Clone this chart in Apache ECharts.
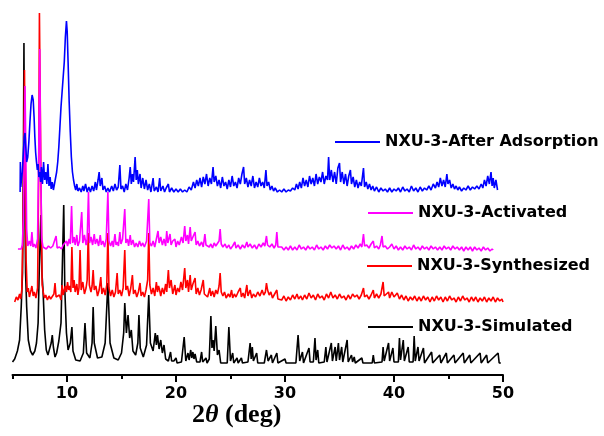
<!DOCTYPE html>
<html>
<head>
<meta charset="utf-8">
<script src="https://cdn.jsdelivr.net/npm/echarts@6/dist/echarts.min.js"></script>
<style>
  html, body { margin: 0; padding: 0; background: #fff; }
  #chart { width: 604px; height: 436px; }
</style>
</head>
<body>
<div id="chart"></div>
<script>
// Powder XRD patterns of NXU-3.
// Each point: [2θ (deg), intensity above the pattern's own baseline (a.u.)]
const simulated = [
  [5.0,1],[5.2,4],[5.45,12],[5.65,23],[5.8,56],[5.92,90],[6.0,200],[6.05,320],[6.1,200],[6.2,90],[6.3,56],
  [6.45,23],[6.65,12],[6.85,8],[7.05,12],[7.2,20],[7.35,40],[7.45,90],[7.6,148],[7.7,90],[7.8,73],[7.95,33],
  [8.1,13],[8.25,8],[8.55,20],[8.65,28],[8.75,16],[8.9,6],[9.05,10],[9.25,22],[9.45,40],[9.6,110],[9.7,158],
  [9.8,73],[9.95,30],[10.1,13],[10.3,20],[10.45,36],[10.55,12],[10.8,3],
  [11.2,2],[11.5,10],[11.65,40],[11.8,10],[12.1,5],[12.3,20],[12.4,56],[12.5,20],[12.8,5],[13.2,6],[13.5,20],
  [13.75,80],[13.95,20],[14.3,5],[14.7,3],[15.0,10],[15.2,30],[15.3,60],[15.45,30],[15.6,48],[15.75,25],[15.9,33],
  [16.05,12],[16.3,8],[16.5,20],[16.6,48],[16.72,15],[17.0,6],[17.3,18],[17.5,68],[17.65,20],[17.9,12],[18.1,30],
  [18.2,18],[18.3,28],[18.45,14],[18.6,23],[18.75,10],[18.9,18],[19.05,4],[19.3,2],[19.5,11],[19.6,2],[19.8,2],
  [20.0,5],[20.1,0],[20.5,1],[20.75,26],[20.9,2],[21.1,10],[21.2,3],[21.35,13],[21.45,5],[21.55,11],[21.65,4],
  [21.75,9],[21.9,1],[22.2,1],[22.35,11],[22.45,1],[22.75,5],[22.85,0],[23.05,4],[23.2,47],[23.3,15],[23.4,23],
  [23.5,12],[23.65,37],[23.8,8],[23.95,13],[24.1,0],[24.7,0],[24.85,36],[25.0,2],[25.2,10],[25.3,0],[25.6,5],
  [25.7,0],[26.0,5],[26.1,0],[26.6,1],[26.8,20],[26.9,4],[27.0,16],[27.1,2],[27.4,10],[27.5,0],[28.1,0],[28.3,13],
  [28.45,2],[28.75,8],[28.85,0],[29.25,10],[29.35,0],[30.0,4],[30.1,0],[31.0,0],[31.2,28],[31.35,2],[31.6,11],
  [31.7,0],[32.2,15],[32.3,1],[32.6,1],[32.75,25],[32.85,3],[33.0,13],[33.1,0],[33.6,1],[33.75,16],[33.85,1],
  [34.25,20],[34.35,2],[34.6,16],[34.7,2],[34.9,20],[35.0,3],[35.2,16],[35.3,1],[35.7,23],[35.8,1],[36.1,8],
  [36.2,1],[36.35,6],[36.45,0],[37.05,5],[37.15,0],[38.0,0],[38.1,8],[38.2,0],[38.9,1],[39.0,16],[39.1,2],
  [39.5,20],[39.6,2],[39.9,15],[40.0,1],[40.4,1],[40.5,25],[40.6,3],[40.85,23],[40.95,2],[41.3,16],[41.4,1],
  [41.75,1],[41.85,27],[41.95,2],[42.2,16],[42.3,2],[42.7,15],[42.8,0],[43.45,11],[43.55,0],[44.2,8],[44.3,0],
  [44.8,10],[44.9,0],[45.5,8],[45.6,0],[46.35,10],[46.45,0],[46.95,8],[47.05,0],[47.9,10],[48.0,0],[48.5,8],
  [48.6,0],[49.55,10],[49.65,0],[49.8,0]
];

const synthesized = [
  [5.2,-2],[5.35,3],[5.5,0],[5.65,6],[5.75,1],[5.85,10],[5.95,60],[6.05,150],[6.1,230],[6.15,150],[6.25,40],
  [6.35,8],[6.45,12],[6.55,3],[6.7,10],[6.78,14],[6.9,4],[7.0,8],[7.15,2],[7.3,12],[7.4,120],[7.47,287],[7.55,287],
  [7.62,110],[7.72,15],[7.85,6],[7.95,2],[8.05,5],[8.2,0],[8.35,4],[8.5,1],[8.65,3],[8.8,6],[8.9,17],[9.0,3],
  [9.15,2],[9.3,5],[9.45,0],[9.55,15],[9.65,5],[9.75,10],[9.85,14],[9.95,8],[10.05,18],[10.15,10],[10.25,14],
  [10.35,8],[10.45,53],[10.55,12],[10.65,20],[10.75,8],[10.9,16],[11.0,5],[11.1,12],[11.2,50],[11.3,10],[11.45,18],
  [11.6,6],[11.75,12],[11.85,20],[11.95,67],[12.05,15],[12.2,8],[12.3,14],[12.4,30],[12.5,10],[12.65,14],[12.8,4],
  [12.95,10],[13.1,23],[13.2,6],[13.35,12],[13.5,5],[13.65,15],[13.75,67],[13.85,12],[14.0,4],[14.15,10],[14.3,3],
  [14.45,8],[14.6,27],[14.7,6],[14.85,10],[15.0,4],[15.15,12],[15.3,50],[15.4,10],[15.55,14],[15.7,4],[15.85,12],
  [16.0,25],[16.1,6],[16.25,10],[16.4,3],[16.55,8],[16.7,17],[16.8,4],[16.95,8],[17.1,3],[17.25,10],[17.4,20],
  [17.5,67],[17.6,15],[17.75,6],[17.9,12],[18.05,4],[18.2,18],[18.3,8],[18.4,14],[18.5,10],[18.6,4],[18.75,12],
  [18.9,6],[19.05,16],[19.15,8],[19.3,30],[19.4,12],[19.55,20],[19.7,6],[19.9,15],[20.0,5],[20.15,12],[20.3,8],
  [20.45,18],[20.6,10],[20.8,32],[20.9,12],[21.05,20],[21.15,8],[21.3,25],[21.4,10],[21.55,16],[21.75,22],[21.85,6],
  [22.0,12],[22.15,5],[22.3,10],[22.5,20],[22.6,6],[22.75,8],[22.9,3],[23.1,12],[23.2,4],[23.35,9],[23.5,3],
  [23.65,10],[23.8,6],[23.95,14],[24.05,27],[24.15,8],[24.3,4],[24.45,8],[24.6,2],[24.8,6],[24.95,3],[25.1,10],
  [25.2,2],[25.35,6],[25.5,3],[25.7,8],[25.9,12],[26.0,3],[26.15,7],[26.3,2],[26.5,15],[26.6,4],[26.8,10],
  [26.95,2],[27.1,6],[27.3,3],[27.5,8],[27.7,4],[27.9,10],[28.05,5],[28.2,8],[28.3,17],[28.4,10],[28.55,5],
  [28.7,8],[28.85,2],[29.0,5],[29.1,3],[29.25,10],[29.35,1],[29.5,3],[29.7,0],[29.9,4],[30.1,-1],[30.3,3],
  [30.5,0],[30.7,5],[30.9,1],[31.1,6],[31.25,1],[31.45,4],[31.6,0],[31.8,5],[32.0,1],[32.2,7],[32.4,2],[32.6,5],
  [32.8,0],[33.0,6],[33.2,2],[33.4,4],[33.6,0],[33.8,6],[34.0,2],[34.2,8],[34.4,2],[34.6,5],[34.8,1],[35.0,6],
  [35.2,2],[35.4,4],[35.6,0],[35.8,5],[36.0,1],[36.2,6],[36.4,3],[36.6,5],[36.8,1],[37.0,5],[37.2,12],[37.3,3],
  [37.5,5],[37.7,1],[37.9,5],[38.1,10],[38.2,2],[38.4,6],[38.6,2],[38.8,6],[39.0,18],[39.1,4],[39.3,6],[39.5,8],
  [39.6,2],[39.8,8],[40.0,3],[40.3,7],[40.5,1],[40.7,5],[40.9,0],[41.1,4],[41.3,-1],[41.5,3],[41.7,0],[41.9,4],
  [42.1,-1],[42.3,3],[42.5,-1],[42.7,4],[42.9,0],[43.1,3],[43.3,-2],[43.5,3],[43.7,-1],[43.9,4],[44.1,0],[44.3,3],
  [44.5,-2],[44.7,3],[44.9,-1],[45.1,4],[45.3,0],[45.5,2],[45.7,-2],[45.9,3],[46.1,-1],[46.3,4],[46.5,0],[46.7,2],
  [46.9,-2],[47.1,3],[47.3,-1],[47.5,3],[47.7,-2],[47.9,2],[48.1,-1],[48.3,3],[48.5,-2],[48.7,2],[48.9,-1],
  [49.1,3],[49.3,-2],[49.5,2],[49.7,-1],[49.9,1],[50.0,-2]
];

const activated = [
  [5.5,0],[5.65,2],[5.8,0],[5.9,4],[6.0,30],[6.08,100],[6.15,163],[6.22,100],[6.3,20],[6.4,3],[6.55,8],[6.68,3],
  [6.78,17],[6.88,2],[7.0,5],[7.15,1],[7.3,10],[7.4,90],[7.5,200],[7.58,90],[7.68,10],[7.8,2],[7.95,4],[8.1,0],
  [8.3,3],[8.5,1],[8.7,3],[8.85,2],[9.0,13],[9.1,1],[9.3,2],[9.5,0],[9.65,4],[9.8,2],[9.95,8],[10.05,3],[10.2,10],
  [10.3,5],[10.42,43],[10.52,6],[10.65,12],[10.75,4],[10.9,14],[11.0,3],[11.15,8],[11.35,37],[11.45,6],[11.6,14],
  [11.75,4],[11.85,10],[11.97,57],[12.07,6],[12.2,12],[12.35,4],[12.5,15],[12.6,5],[12.75,10],[12.9,3],[13.05,14],
  [13.15,4],[13.3,8],[13.45,2],[13.6,10],[13.75,57],[13.85,8],[14.0,3],[14.15,8],[14.25,2],[14.4,15],[14.5,4],
  [14.6,7],[14.72,3],[14.85,17],[14.95,5],[15.1,10],[15.3,40],[15.4,6],[15.55,10],[15.65,3],[15.8,14],[15.9,4],
  [16.05,9],[16.2,2],[16.35,6],[16.5,2],[16.65,8],[16.8,3],[16.95,6],[17.1,2],[17.3,8],[17.5,50],[17.6,6],
  [17.75,3],[17.9,8],[18.05,2],[18.2,10],[18.35,18],[18.45,6],[18.6,12],[18.75,4],[18.9,10],[19.05,3],[19.15,18],
  [19.25,6],[19.45,15],[19.55,4],[19.7,8],[19.9,10],[20.0,2],[20.15,8],[20.3,4],[20.5,12],[20.65,6],[20.8,23],
  [20.9,8],[21.05,14],[21.15,5],[21.3,22],[21.4,8],[21.55,12],[21.75,17],[21.85,4],[22.0,8],[22.15,3],[22.35,7],
  [22.5,2],[22.65,15],[22.75,4],[22.9,6],[23.05,2],[23.2,5],[23.35,1],[23.5,6],[23.65,3],[23.8,5],[23.95,8],
  [24.05,20],[24.15,5],[24.3,2],[24.5,5],[24.65,1],[24.85,4],[25.0,0],[25.2,3],[25.4,7],[25.5,1],[25.7,4],
  [25.9,0],[26.1,4],[26.3,1],[26.5,7],[26.6,2],[26.8,5],[27.0,1],[27.2,4],[27.4,0],[27.6,5],[27.8,2],[28.0,6],
  [28.15,3],[28.3,13],[28.4,4],[28.6,2],[28.8,5],[29.0,1],[29.15,4],[29.25,17],[29.35,2],[29.5,0],[29.7,2],
  [29.9,-1],[30.1,2],[30.3,-1],[30.5,3],[30.7,-1],[30.9,2],[31.1,-1],[31.3,4],[31.5,0],[31.7,2],[31.9,-1],
  [32.1,3],[32.3,0],[32.5,2],[32.7,-1],[32.9,4],[33.1,0],[33.3,2],[33.5,-1],[33.7,3],[33.9,0],[34.1,4],[34.3,1],
  [34.5,3],[34.7,0],[34.9,3],[35.1,-1],[35.3,4],[35.5,0],[35.7,2],[35.9,-1],[36.1,3],[36.3,0],[36.5,4],[36.7,1],
  [36.9,5],[37.05,2],[37.2,15],[37.3,3],[37.5,4],[37.7,1],[37.9,5],[38.1,8],[38.2,1],[38.4,3],[38.6,0],[38.75,4],
  [38.9,13],[39.0,2],[39.2,3],[39.4,0],[39.6,2],[39.8,5],[40.0,0],[40.2,3],[40.4,-1],[40.6,2],[40.8,-1],[41.0,3],
  [41.2,0],[41.4,2],[41.6,-1],[41.8,4],[42.0,0],[42.2,2],[42.4,-1],[42.6,3],[42.8,0],[43.0,2],[43.2,-1],[43.4,3],
  [43.6,0],[43.8,2],[44.0,-1],[44.2,2],[44.4,-1],[44.6,3],[44.8,0],[45.0,2],[45.2,-1],[45.4,3],[45.6,0],[45.8,2],
  [46.0,-1],[46.2,2],[46.4,-2],[46.6,2],[46.8,-1],[47.0,2],[47.2,-2],[47.4,2],[47.6,-1],[47.8,1],[48.0,-2],
  [48.2,2],[48.4,-1],[48.6,1],[48.8,-2],[49.0,0],[49.1,-1]
];

const afterAdsorption = [
  [5.7,0],[5.72,30],[5.76,5],[5.82,12],[5.9,20],[6.0,40],[6.08,55],[6.15,59],[6.22,45],[6.3,30],[6.4,35],[6.5,50],
  [6.6,70],[6.7,88],[6.8,97],[6.9,92],[6.98,75],[7.05,55],[7.12,40],[7.2,30],[7.28,22],[7.35,28],[7.42,15],
  [7.5,20],[7.58,10],[7.65,25],[7.75,8],[7.85,30],[7.95,12],[8.05,20],[8.15,8],[8.25,28],[8.35,6],[8.45,15],
  [8.55,3],[8.65,10],[8.75,2],[8.85,8],[8.95,14],[9.05,20],[9.15,30],[9.25,45],[9.35,65],[9.45,85],[9.55,100],
  [9.65,115],[9.75,130],[9.85,155],[9.95,171],[10.02,160],[10.1,130],[10.2,90],[10.3,60],[10.4,35],[10.5,20],
  [10.6,12],[10.7,6],[10.8,2],[10.9,8],[11.0,1],[11.15,4],[11.3,0],[11.45,6],[11.55,1],[11.7,8],[11.85,0],
  [12.0,5],[12.15,0],[12.3,6],[12.45,1],[12.6,10],[12.7,2],[12.85,12],[12.95,20],[13.05,6],[13.2,14],[13.3,2],
  [13.45,6],[13.6,0],[13.75,4],[13.9,0],[14.1,6],[14.25,1],[14.4,8],[14.55,2],[14.7,5],[14.85,27],[14.95,3],
  [15.1,6],[15.25,0],[15.4,8],[15.55,2],[15.7,14],[15.8,25],[15.9,8],[16.0,18],[16.1,10],[16.25,35],[16.35,12],
  [16.45,22],[16.55,8],[16.7,18],[16.8,4],[16.95,14],[17.1,3],[17.25,12],[17.4,2],[17.55,8],[17.7,0],[17.9,14],
  [18.0,1],[18.2,5],[18.35,0],[18.5,14],[18.6,1],[18.8,6],[18.95,0],[19.1,4],[19.3,8],[19.4,0],[19.6,4],[19.8,0],
  [20.0,3],[20.2,0],[20.4,3],[20.6,0],[20.8,2],[21.0,0],[21.2,5],[21.4,2],[21.6,10],[21.75,4],[21.9,12],[22.05,6],
  [22.2,14],[22.35,5],[22.5,15],[22.65,8],[22.8,18],[22.95,6],[23.1,14],[23.25,8],[23.4,25],[23.5,10],[23.65,16],
  [23.8,6],[23.95,12],[24.1,4],[24.25,15],[24.4,6],[24.55,10],[24.7,3],[24.85,12],[25.0,5],[25.15,16],[25.3,6],
  [25.45,10],[25.6,4],[25.75,14],[25.9,8],[26.05,18],[26.2,25],[26.3,8],[26.45,14],[26.6,5],[26.75,12],[26.9,6],
  [27.05,16],[27.2,4],[27.35,10],[27.5,5],[27.65,14],[27.8,6],[27.95,10],[28.1,4],[28.25,22],[28.35,6],[28.5,10],
  [28.65,2],[28.8,6],[28.95,1],[29.1,4],[29.3,0],[29.5,2],[29.7,0],[29.9,3],[30.1,0],[30.3,2],[30.5,1],[30.7,4],
  [30.9,2],[31.05,8],[31.2,3],[31.35,10],[31.5,4],[31.65,14],[31.8,6],[31.95,12],[32.1,5],[32.25,16],[32.4,8],
  [32.55,14],[32.7,6],[32.85,18],[33.0,8],[33.15,15],[33.3,10],[33.45,20],[33.6,8],[33.75,16],[33.9,12],[34.0,35],
  [34.1,12],[34.25,22],[34.4,10],[34.55,20],[34.7,8],[34.85,24],[35.0,29],[35.1,10],[35.25,20],[35.4,8],[35.55,18],
  [35.7,6],[35.85,16],[36.0,22],[36.1,8],[36.25,15],[36.4,5],[36.55,12],[36.7,4],[36.85,10],[37.0,6],[37.2,24],
  [37.3,5],[37.45,10],[37.6,3],[37.75,8],[37.9,2],[38.05,6],[38.2,1],[38.4,5],[38.6,0],[38.8,4],[39.0,1],[39.2,3],
  [39.4,0],[39.6,4],[39.8,0],[40.0,3],[40.2,1],[40.4,4],[40.6,0],[40.8,5],[41.0,1],[41.2,3],[41.4,0],[41.6,6],
  [41.8,1],[42.0,4],[42.2,0],[42.4,5],[42.6,1],[42.8,4],[43.0,2],[43.2,6],[43.4,2],[43.6,8],[43.8,4],[43.95,10],
  [44.1,5],[44.25,14],[44.4,6],[44.55,12],[44.7,5],[44.85,18],[44.95,8],[45.1,12],[45.25,4],[45.4,8],[45.55,3],
  [45.7,6],[45.85,2],[46.0,5],[46.2,1],[46.4,4],[46.6,2],[46.8,6],[47.0,2],[47.2,5],[47.4,3],[47.6,6],[47.8,3],
  [48.0,8],[48.15,4],[48.3,12],[48.45,6],[48.6,16],[48.75,8],[48.9,20],[49.0,6],[49.1,14],[49.2,4],[49.35,12],
  [49.5,2]
];

const seriesNames = ['NXU-3-Simulated', 'NXU-3-Synthesized', 'NXU-3-Activated', 'NXU-3-After Adsorption'];
const majorTickValues = [10, 20, 30, 40, 50];
const minorTickValues = [5, 15, 25, 35, 45];

const patterns = [simulated, synthesized, activated, afterAdsorption];
const colors = ['#000000', '#ff0000', '#ff00ff', '#0000ff'];
// vertical offsets that stack the patterns above one another
const stackOffsets = [12, 75, 126, 183];

const legendFont = { fontFamily: 'DejaVu Sans', fontWeight: 'bold', fontSize: 16, color: '#000' };
const legendPlacement = [
  { left: 368, top: 319 },
  { left: 367, top: 258 },
  { left: 368, top: 205 },
  { left: 335, top: 134 }
];

const chart = echarts.init(document.getElementById('chart'), null, { renderer: 'canvas' });
chart.setOption({
  animation: false,
  backgroundColor: '#fff',
  grid: { left: 12.5, right: 101, top: 0, bottom: 61, containLabel: false },
  xAxis: [
    {
      type: 'value', min: 5, max: 50, position: 'bottom',
      axisLine: { show: true, lineStyle: { color: '#000', width: 2 } },
      axisTick: { show: true, customValues: majorTickValues, length: 7, lineStyle: { color: '#000', width: 2 } },
      axisLabel: { customValues: majorTickValues, margin: 11, ...legendFont },
      splitLine: { show: false }
    },
    {
      type: 'value', min: 5, max: 50, position: 'bottom',
      axisLine: { show: false },
      axisTick: { show: true, customValues: minorTickValues, length: 4, lineStyle: { color: '#000', width: 2 } },
      axisLabel: { show: false },
      splitLine: { show: false }
    }
  ],
  yAxis: { type: 'value', min: 0, max: 375, show: false },
  legend: seriesNames.map((name, i) => ({
    data: [{ name, icon: 'rect' }],
    left: legendPlacement[i].left,
    top: legendPlacement[i].top,
    padding: 0,
    itemWidth: 45,
    itemHeight: 2,
    selectedMode: false,
    textStyle: legendFont
  })),
  series: patterns.map((points, i) => ({
    name: seriesNames[i],
    type: 'line',
    xAxisIndex: 0,
    yAxisIndex: 0,
    data: points.map(([t, v]) => [t, v + stackOffsets[i]]),
    symbol: 'none',
    showSymbol: false,
    silent: true,
    clip: false,
    z: 2 + i,
    color: colors[i],
    itemStyle: { color: colors[i] },
    lineStyle: { color: colors[i], width: 1.6 }
  })),
  graphic: [{
    type: 'text',
    left: 192,
    top: 402,
    style: {
      text: '{n|2}{t|θ}{n| (deg)}',
      rich: {
        n: { fontFamily: 'Liberation Serif', fontWeight: 'bold', fontSize: 26, fill: '#000', color: '#000' },
        t: { fontFamily: 'Liberation Serif', fontWeight: 'bold', fontStyle: 'italic', fontSize: 26, fill: '#000', color: '#000' }
      }
    }
  }]
});
</script>
</body>
</html>
